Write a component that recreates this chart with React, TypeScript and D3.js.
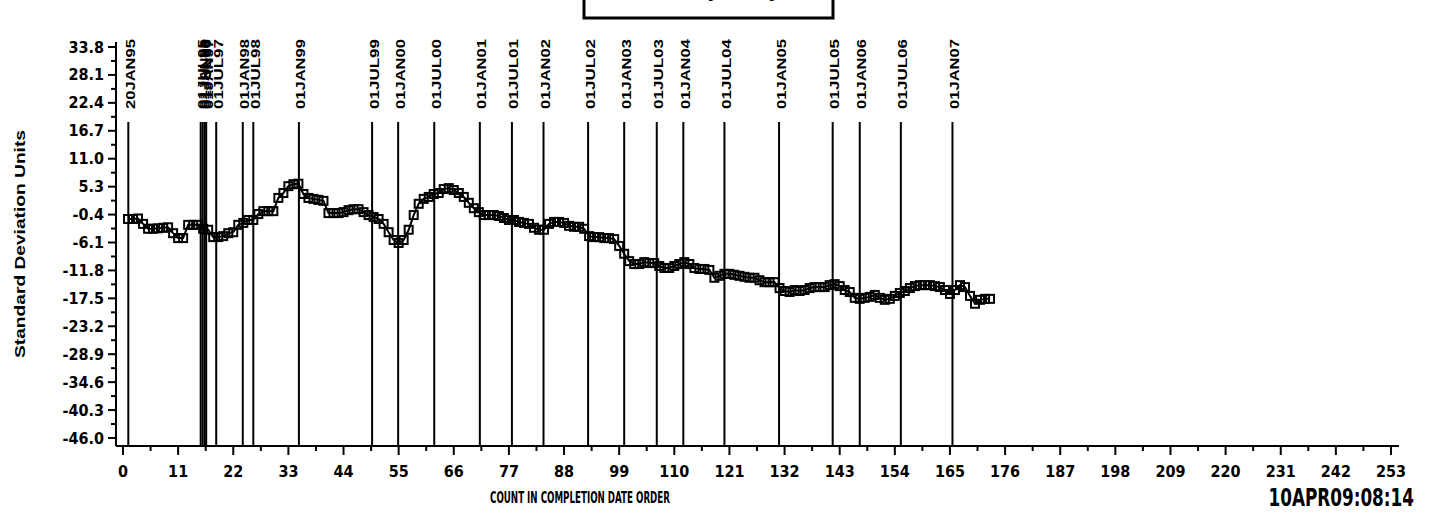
import React from 'react';
import * as d3 from 'd3';

// Series values: count 1..173 in completion date order
const values: number[] = [
  -1.3, -1.3, -1.2, -2.3, -3.3, -3.3, -3.2, -3.1, -3.0, -4.2,
  -5.2, -5.2, -2.5, -2.5, -2.5, -3.3, -3.5, -5.0, -5.0, -4.8,
  -4.2, -4.0, -2.5, -2.1, -1.5, -1.5, -0.3, 0.3, 0.3, 0.3,
  3.0, 4.0, 5.4, 5.8, 5.9, 3.8, 3.0, 2.8, 2.6, 2.4,
  -0.1, -0.1, -0.1, 0.1, 0.5, 0.7, 0.7, 0.1, -0.5, -0.9,
  -1.3, -2.3, -4.0, -5.6, -6.2, -5.6, -3.5, -0.5, 1.8, 2.8,
  3.2, 3.8, 4.0, 4.8, 5.0, 4.6, 4.0, 3.2, 2.0, 0.9,
  0.1, -0.5, -0.5, -0.5, -0.7, -1.1, -1.5, -1.5, -1.9, -2.1,
  -2.3, -3.1, -3.5, -3.5, -2.3, -1.9, -1.9, -2.1, -2.7, -2.9,
  -2.9, -3.3, -4.8, -5.0, -5.0, -5.2, -5.2, -5.4, -6.8, -8.4,
  -9.9, -10.5, -10.5, -10.1, -10.3, -10.3, -10.9, -11.3, -11.3, -10.9,
  -10.5, -10.1, -10.5, -11.3, -11.5, -11.5, -11.7, -13.3, -12.9, -12.5,
  -12.5, -12.7, -12.9, -13.1, -13.3, -13.3, -13.8, -14.2, -14.2, -14.2,
  -15.4, -16.0, -16.2, -15.8, -16.0, -15.8, -15.4, -15.2, -15.2, -15.2,
  -14.8, -14.6, -15.0, -15.8, -16.2, -17.4, -17.6, -17.4, -17.2, -16.8,
  -17.4, -17.8, -17.6, -17.0, -16.4, -16.0, -15.4, -15.0, -14.8, -14.8,
  -14.8, -15.0, -15.2, -15.8, -16.6, -15.8, -14.8, -15.2, -17.0, -18.6,
  -17.8, -17.6, -17.6,
];

// Reference lines (dates) and the count position where each falls
const refLabels: string[] = [
  '20JAN95', '01JUL95', '01JAN96', '01JUL96', '01JAN97', '01JUL97', '01JAN98', '01JUL98',
  '01JAN99', '01JUL99', '01JAN00', '01JUL00', '01JAN01', '01JUL01', '01JAN02', '01JUL02',
  '01JAN03', '01JUL03', '01JAN04', '01JUL04', '01JAN05', '01JUL05', '01JAN06', '01JUL06', '01JAN07',
];
const refCounts: number[] = [
  1.06, 15.5, 15.9, 16.3, 16.6, 18.6, 23.9, 26.0,
  35.1, 49.7, 54.9, 62.1, 71.2, 77.6, 83.9, 92.8,
  100.0, 106.5, 111.8, 120.0, 130.9, 141.6, 147.0, 155.2, 165.5,
];

const xTickValues: number[] = [0, 11, 22, 33, 44, 55, 66, 77, 88, 99, 110, 121, 132, 143, 154, 165, 176, 187, 198, 209, 220, 231, 242, 253];
const yTickValues: number[] = [33.8, 28.1, 22.4, 16.7, 11.0, 5.3, -0.4, -6.1, -11.8, -17.5, -23.2, -28.9, -34.6, -40.3, -46.0];

const titleText = 'Trend by Study';
const xTitle = 'COUNT IN COMPLETION DATE ORDER';
const yTitle = 'Standard Deviation Units';
const stamp = '10APR09:08:14';

const NARROW = "'Liberation Sans Narrow', 'DejaVu Sans Condensed', 'Liberation Sans', sans-serif";
const SANS = "'Liberation Sans', Arial, sans-serif";

export default function App() {
  const W = 1429;
  const H = 515;
  const x = d3.scaleLinear().domain([0, 253]).range([123, 1391]);
  const y = d3.scaleLinear().domain([-46, 33.8]).range([438, 47]);
  const axisX = 116;
  const axisY = 446;
  const xEnd = 1399;
  const yTop = 42;
  const SW = 2;

  const line = d3
    .line<number>()
    .x((_, i) => x(i + 1))
    .y((d) => y(d));

  const xMinor = xTickValues.slice(0, -1).map((t, i) => (t + xTickValues[i + 1]) / 2);
  const yMinor = yTickValues.slice(0, -1).map((t, i) => (t + yTickValues[i + 1]) / 2);

  return (
    <svg
      width={W}
      height={H}
      style={{ position: 'absolute', left: 0, top: 0, background: '#fff' }}
    >
      <rect x={0} y={0} width={W} height={H} fill="#fff" />
      {/* title box (cut at top) */}
      <rect x={584} y={-24} width={249} height={42} fill="#fff" stroke="#000" strokeWidth={3} />
      <text x={708} y={-3} textAnchor="middle" fontFamily={SANS} fontWeight="bold" fontSize={20}>
        {titleText}
      </text>

      {/* reference lines */}
      {refCounts.map((c, i) => (
        <g key={'r' + i}>
          <line x1={x(c)} x2={x(c)} y1={122} y2={axisY} stroke="#000" strokeWidth={SW} />
          <text
            transform={`translate(${x(c) + 2},109) rotate(-90)`}
            dominantBaseline="central"
            fontFamily={SANS}
            fontWeight="bold"
            fontSize={13}
            textLength={70}
            lengthAdjust="spacingAndGlyphs"
          >
            {refLabels[i]}
          </text>
        </g>
      ))}

      {/* axes */}
      <line x1={axisX} x2={axisX} y1={yTop} y2={axisY} stroke="#000" strokeWidth={SW} />
      <line x1={axisX} x2={xEnd} y1={axisY} y2={axisY} stroke="#000" strokeWidth={SW} />
      {yTickValues.map((t) => (
        <g key={'yt' + t}>
          <line x1={axisX - 8} x2={axisX} y1={y(t)} y2={y(t)} stroke="#000" strokeWidth={SW} />
          <text
            x={axisX - 12}
            y={y(t)}
            textAnchor="end"
            dominantBaseline="central"
            fontFamily={NARROW}
            fontWeight="bold"
            fontSize={16}
          >
            {t.toFixed(1)}
          </text>
        </g>
      ))}
      {yMinor.map((t) => (
        <line key={'ym' + t} x1={axisX - 5} x2={axisX} y1={y(t)} y2={y(t)} stroke="#000" strokeWidth={SW} />
      ))}
      {xTickValues.map((t) => (
        <g key={'xt' + t}>
          <line x1={x(t)} x2={x(t)} y1={axisY} y2={axisY + 9} stroke="#000" strokeWidth={SW} />
          <text
            x={x(t)}
            y={471}
            textAnchor="middle"
            dominantBaseline="central"
            fontFamily={NARROW}
            fontWeight="bold"
            fontSize={16}
          >
            {t}
          </text>
        </g>
      ))}
      {xMinor.map((t) => (
        <line key={'xm' + t} x1={x(t)} x2={x(t)} y1={axisY} y2={axisY + 5} stroke="#000" strokeWidth={SW} />
      ))}

      {/* series */}
      <path d={line(values) ?? ''} fill="none" stroke="#000" strokeWidth={2} />
      {values.map((v, i) => (
        <rect
          key={'p' + i}
          x={x(i + 1) - 4}
          y={y(v) - 4}
          width={8}
          height={8}
          fill="none"
          stroke="#000"
          strokeWidth={2}
        />
      ))}

      {/* titles */}
      <text
        x={580}
        y={503}
        textAnchor="middle"
        fontFamily={NARROW}
        fontWeight="bold"
        fontSize={15}
        textLength={180}
        lengthAdjust="spacingAndGlyphs"
      >
        {xTitle}
      </text>
      <text
        transform="translate(25,244) rotate(-90)"
        textAnchor="middle"
        fontFamily={SANS}
        fontWeight="bold"
        fontSize={14}
        textLength={228}
        lengthAdjust="spacingAndGlyphs"
      >
        {yTitle}
      </text>
      <text
        transform="translate(1414,506) scale(0.78,1)"
        textAnchor="end"
        fontFamily={NARROW}
        fontWeight="bold"
        fontSize={24}
      >
        {stamp}
      </text>
    </svg>
  );
}
